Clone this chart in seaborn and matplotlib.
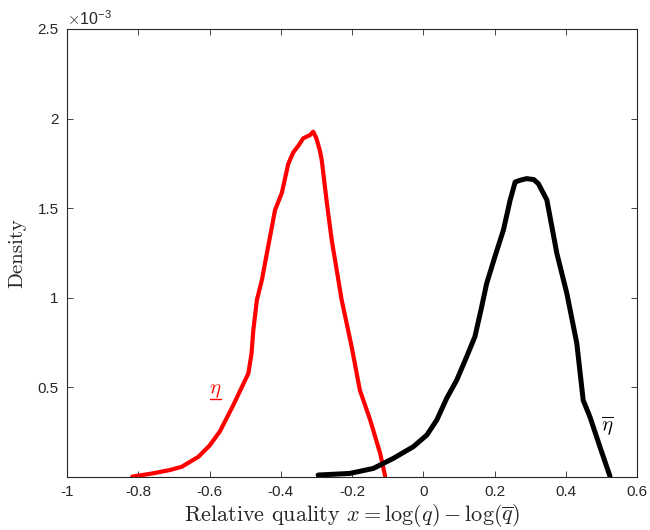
import matplotlib
matplotlib.use("Agg")
import matplotlib.pyplot as plt
import numpy as np
import pandas as pd
import seaborn as sns

# density of relative quality, low (red) and high (black) regime, y in units of 1e-3
low_x = [-0.817, -0.760, -0.711, -0.678, -0.631, -0.600, -0.571, -0.533, -0.491,
         -0.482, -0.477, -0.467, -0.453, -0.439, -0.416, -0.397, -0.379, -0.365,
         -0.350, -0.337, -0.318, -0.309, -0.300, -0.290, -0.285, -0.270, -0.257,
         -0.229, -0.201, -0.178, -0.149, -0.121, -0.107]
low_y = [0.002, 0.020, 0.039, 0.057, 0.113, 0.175, 0.254, 0.402, 0.578,
         0.690, 0.820, 0.988, 1.099, 1.248, 1.490, 1.585, 1.747, 1.811,
         1.850, 1.890, 1.908, 1.927, 1.890, 1.820, 1.769, 1.520, 1.323,
         0.988, 0.727, 0.485, 0.318, 0.132, 0.005]

high_x = [-0.295, -0.206, -0.140, -0.084, -0.028, 0.010, 0.038, 0.066, 0.094,
          0.122, 0.145, 0.164, 0.178, 0.201, 0.225, 0.244, 0.258, 0.272, 0.290,
          0.310, 0.323, 0.347, 0.375, 0.403, 0.431, 0.449, 0.468, 0.496, 0.524]
high_y = [0.011, 0.020, 0.048, 0.104, 0.169, 0.234, 0.318, 0.440, 0.541,
          0.672, 0.783, 0.950, 1.080, 1.229, 1.378, 1.546, 1.646, 1.656, 1.665,
          1.660, 1.637, 1.546, 1.248, 1.025, 0.746, 0.428, 0.335, 0.168, 0.005]

xticks = [-1, -0.8, -0.6, -0.4, -0.2, 0, 0.2, 0.4, 0.6]
yticks = [0.5, 1, 1.5, 2, 2.5]

sns.set_theme(style="white")
plt.rcParams["font.family"] = ["Liberation Sans", "DejaVu Sans"]
plt.rcParams["mathtext.fontset"] = "cm"
plt.rcParams["xtick.direction"] = "in"
plt.rcParams["ytick.direction"] = "in"

low = pd.DataFrame({"x": low_x, "y": np.array(low_y) * 1e-3})
high = pd.DataFrame({"x": high_x, "y": np.array(high_y) * 1e-3})

fig = plt.figure(figsize=(6.5, 5.3), dpi=100)
ax = fig.add_axes([0.1031, 0.1, 0.8769, 0.8453])

sns.lineplot(data=low, x="x", y="y", color="#ff0000", lw=3.0, sort=False, ax=ax)
sns.lineplot(data=high, x="x", y="y", color="black", lw=3.6, sort=False, ax=ax)

ax.set_xlim(-1, 0.6)
ax.set_ylim(0, 2.5e-3)
ax.set_xticks(xticks)
ax.set_xticklabels(["%g" % v for v in xticks], fontsize=11, color="#262626")
ax.set_yticks([v * 1e-3 for v in yticks])
ax.set_yticklabels(["%g" % v for v in yticks], fontsize=11, color="#262626")
ax.tick_params(bottom=True, left=True, top=True, right=True, length=4,
               width=0.6, color="#262626", pad=6)
for s in ax.spines.values():
    s.set_color("#262626")
    s.set_linewidth(0.8)

ax.text(0.0, 1.003, r"$\times$10$^{\mathregular{-3}}$", transform=ax.transAxes,
        fontsize=11.5, color="#262626", ha="left", va="bottom")

ax.set_xlabel(r"Relative quality $x = \log(q) - \log(\overline{q})$",
              family="cmr10", fontsize=16, labelpad=2)
ax.set_ylabel("Density", family="cmr10", fontsize=15, labelpad=8)

t = ax.text(-0.585, 0.48e-3, r"$\eta$", color="#ff0000", fontsize=15,
            ha="center", va="center")
fig.canvas.draw()
bb = t.get_window_extent().transformed(ax.transData.inverted())
ax.plot([bb.x0 + 0.003, bb.x1 - 0.001], [bb.y0 + 0.008e-3] * 2, color="#ff0000", lw=1)

ax.text(0.516, 0.29e-3, r"$\overline{\eta}$", color="black", fontsize=15,
        ha="center", va="center")

fig.savefig("out.png", dpi=100)
